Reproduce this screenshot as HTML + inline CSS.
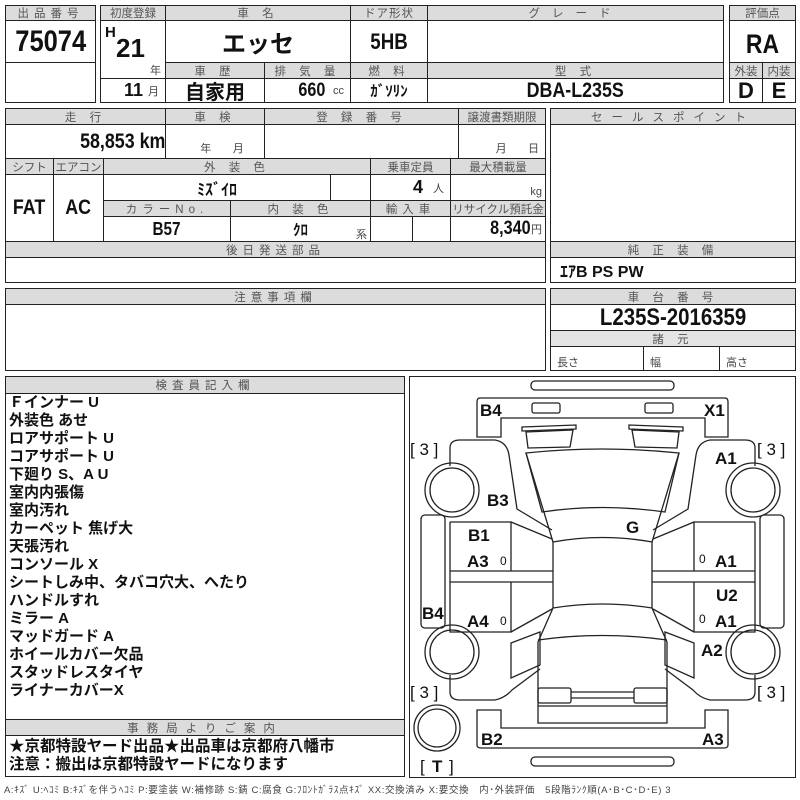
<!DOCTYPE html>
<html><head><meta charset="utf-8"><style>
*{margin:0;padding:0}
body{width:800px;height:800px;background:#fff;position:relative;overflow:hidden;font-family:"Liberation Sans","Noto Sans CJK JP",sans-serif}
.c{position:absolute;border:1.3px solid #222;box-sizing:border-box;display:flex;align-items:center;justify-content:center;white-space:nowrap;overflow:hidden}
.h{background:#dcdcdc;color:#555;font-size:11.5px;letter-spacing:5px}
.v{font-family:"Liberation Sans Narrow","Liberation Sans","Noto Sans CJK JP",sans-serif;font-weight:bold;color:#111}
.s{font-size:11px;color:#444;font-weight:normal}
.n{display:inline-block;transform:scaleX(.85)}
.t{position:absolute;font-family:"Liberation Sans","Noto Sans CJK JP",sans-serif;font-weight:bold;color:#111}
.lbl{font-family:"Liberation Sans",sans-serif;font-weight:bold;font-size:17px;fill:#111}
.br{font-family:"Liberation Sans",sans-serif;font-size:17px;fill:#111}
</style></head><body>
<div class="c h" style="left:5px;top:5px;width:91px;height:16px">出品番号</div>
<div class="c v" style="left:5px;top:20px;width:91px;height:43px;font-size:30px"><span class="n">75074</span></div>
<div class="c" style="left:5px;top:62px;width:91px;height:41px"></div>

<div class="c h" style="left:100px;top:5px;width:66px;height:16px;letter-spacing:0">初度登録</div>
<div class="c h" style="left:165px;top:5px;width:186px;height:16px">車 名</div>
<div class="c h" style="left:350px;top:5px;width:78px;height:16px;letter-spacing:1px">ドア形状</div>
<div class="c h" style="left:427px;top:5px;width:297px;height:16px;letter-spacing:12px">グレード</div>
<div class="c" style="left:100px;top:20px;width:66px;height:59px"></div>
<div class="t v" style="left:105px;top:24px;font-size:15px">H</div>
<div class="t v" style="left:116px;top:33px;font-size:26px">21</div>
<div class="t" style="left:150px;top:62px;font-size:11px;font-weight:normal;color:#444">年</div>
<div class="c v" style="left:165px;top:20px;width:186px;height:43px;font-size:24px">エッセ</div>
<div class="c v" style="left:350px;top:20px;width:78px;height:43px;font-size:22px"><span class="n">5HB</span></div>
<div class="c" style="left:427px;top:20px;width:297px;height:43px"></div>
<div class="c h" style="left:165px;top:62px;width:100px;height:17px">車 歴</div>
<div class="c h" style="left:264px;top:62px;width:87px;height:17px">排 気 量</div>
<div class="c h" style="left:350px;top:62px;width:78px;height:17px">燃 料</div>
<div class="c h" style="left:427px;top:62px;width:297px;height:17px">型 式</div>
<div class="c v" style="left:100px;top:78px;width:66px;height:25px;font-size:18px;justify-content:flex-end;padding-right:6px">11&nbsp;<span class="s">月</span></div>
<div class="c v" style="left:165px;top:78px;width:100px;height:25px;font-size:20px">自家用</div>
<div class="c v" style="left:264px;top:78px;width:87px;height:25px;font-size:19px;justify-content:flex-end;padding-right:6px"><span class="n">660</span>&nbsp;<span class="s">cc</span></div>
<div class="c v" style="left:350px;top:78px;width:78px;height:25px;font-size:15px">ｶﾞｿﾘﾝ</div>
<div class="c v" style="left:427px;top:78px;width:297px;height:25px;font-size:21px"><span class="n">DBA-L235S</span></div>

<div class="c h" style="left:729px;top:5px;width:67px;height:16px;letter-spacing:0">評価点</div>
<div class="c v" style="left:729px;top:20px;width:67px;height:43px;font-size:27px;padding-top:6px"><span class="n">RA</span></div>
<div class="c h" style="left:729px;top:62px;width:34px;height:17px;letter-spacing:0">外装</div>
<div class="c h" style="left:762px;top:62px;width:34px;height:17px;letter-spacing:0">内装</div>
<div class="c v" style="left:729px;top:78px;width:34px;height:25px;font-size:22px">D</div>
<div class="c v" style="left:762px;top:78px;width:34px;height:25px;font-size:22px">E</div>

<div class="c h" style="left:5px;top:108px;width:161px;height:17px">走 行</div>
<div class="c h" style="left:165px;top:108px;width:100px;height:17px">車 検</div>
<div class="c h" style="left:264px;top:108px;width:195px;height:17px">登 録 番 号</div>
<div class="c h" style="left:458px;top:108px;width:88px;height:17px;letter-spacing:0">譲渡書類期限</div>
<div class="c v" style="left:5px;top:124px;width:161px;height:35px;font-size:21px;justify-content:flex-end;padding-right:0"><span class="n" style="transform-origin:right">58,853 km</span></div>
<div class="c" style="left:165px;top:124px;width:100px;height:35px;font-size:11px;color:#444;align-items:flex-end;padding-bottom:2px;padding-left:14px">年&nbsp;&nbsp;&nbsp;&nbsp;&nbsp;&nbsp;&nbsp;月</div>
<div class="c" style="left:264px;top:124px;width:195px;height:35px"></div>
<div class="c" style="left:458px;top:124px;width:88px;height:35px;font-size:11px;color:#444;align-items:flex-end;justify-content:flex-end;padding:0 6px 2px 0">月&nbsp;&nbsp;&nbsp;&nbsp;&nbsp;&nbsp;&nbsp;日</div>
<div class="c h" style="left:5px;top:158px;width:49px;height:17px;letter-spacing:0">シフト</div>
<div class="c h" style="left:53px;top:158px;width:51px;height:17px;letter-spacing:0">エアコン</div>
<div class="c h" style="left:103px;top:158px;width:268px;height:17px">外 装 色</div>
<div class="c h" style="left:370px;top:158px;width:81px;height:17px;letter-spacing:0">乗車定員</div>
<div class="c h" style="left:450px;top:158px;width:96px;height:17px;letter-spacing:0">最大積載量</div>
<div class="c v" style="left:5px;top:174px;width:49px;height:68px;font-size:21px"><span class="n">FAT</span></div>
<div class="c v" style="left:53px;top:174px;width:51px;height:68px;font-size:21px"><span class="n">AC</span></div>
<div class="c v" style="left:103px;top:174px;width:228px;height:27px;font-size:16px">ﾐｽﾞｲﾛ</div>
<div class="c" style="left:330px;top:174px;width:41px;height:27px"></div>
<div class="c v" style="left:370px;top:174px;width:81px;height:27px;font-size:18px;justify-content:flex-end;padding-right:6px">4&nbsp;&nbsp;<span class="s">人</span></div>
<div class="c" style="left:450px;top:174px;width:96px;height:27px;font-size:11px;color:#444;justify-content:flex-end;align-items:flex-end;padding:0 3px 2px 0">kg</div>
<div class="c h" style="left:103px;top:200px;width:128px;height:17px">カラーNo.</div>
<div class="c h" style="left:230px;top:200px;width:141px;height:17px">内 装 色</div>
<div class="c h" style="left:370px;top:200px;width:81px;height:17px">輸入車</div>
<div class="c h" style="left:450px;top:200px;width:96px;height:17px;letter-spacing:0">リサイクル預託金</div>
<div class="c v" style="left:103px;top:216px;width:128px;height:26px;font-size:18px"><span class="n">B57</span></div>
<div class="c v" style="left:230px;top:216px;width:141px;height:26px;font-size:15px">ｸﾛ</div>
<div class="t" style="left:356px;top:226px;font-size:11px;font-weight:normal;color:#444">系</div>
<div class="c" style="left:370px;top:216px;width:43px;height:26px"></div>
<div class="c" style="left:412px;top:216px;width:39px;height:26px"></div>
<div class="c v" style="left:450px;top:216px;width:96px;height:26px;font-size:19px;justify-content:flex-end;padding-right:3px"><span class="n" style="transform-origin:right">8,340</span><span class="s">円</span></div>
<div class="c h" style="left:5px;top:241px;width:541px;height:17px">後日発送部品</div>
<div class="c" style="left:5px;top:257px;width:541px;height:26px"></div>

<div class="c h" style="left:550px;top:108px;width:246px;height:17px;letter-spacing:9px">セールスポイント</div>
<div class="c" style="left:550px;top:124px;width:246px;height:118px"></div>
<div class="c h" style="left:550px;top:241px;width:246px;height:17px">純 正 装 備</div>
<div class="c v" style="left:550px;top:257px;width:246px;height:26px;font-size:16px;justify-content:flex-start;padding-left:9px">ｴｱB PS PW</div>

<div class="c h" style="left:5px;top:288px;width:541px;height:17px">注意事項欄</div>
<div class="c" style="left:5px;top:304px;width:541px;height:67px"></div>
<div class="c h" style="left:550px;top:288px;width:246px;height:17px">車 台 番 号</div>
<div class="c v" style="left:550px;top:304px;width:246px;height:27px;font-size:24px"><span class="n">L235S-2016359</span></div>
<div class="c h" style="left:550px;top:330px;width:246px;height:17px;background:#e4e4e4">諸 元</div>
<div class="c" style="left:550px;top:346px;width:94px;height:25px;font-size:11px;color:#444;justify-content:flex-start;padding-left:6px;padding-top:6px">長さ</div>
<div class="c" style="left:643px;top:346px;width:77px;height:25px;font-size:11px;color:#444;justify-content:flex-start;padding-left:6px;padding-top:6px">幅</div>
<div class="c" style="left:719px;top:346px;width:77px;height:25px;font-size:11px;color:#444;justify-content:flex-start;padding-left:6px;padding-top:6px">高さ</div>

<div class="c h" style="left:5px;top:376px;width:400px;height:18px">検査員記入欄</div>
<div class="c" style="left:5px;top:393px;width:400px;height:328px"></div>
<div class="t" style="left:9px;top:394px;font-size:15px;line-height:18px">Ｆインナー U<br>外装色 あせ<br>ロアサポート U<br>コアサポート U<br>下廻り S、A U<br>室内内張傷<br>室内汚れ<br>カーペット 焦げ大<br>天張汚れ<br>コンソール X<br>シートしみ中、タバコ穴大、へたり<br>ハンドルすれ<br>ミラー A<br>マッドガード A<br>ホイールカバー欠品<br>スタッドレスタイヤ<br>ライナーカバーX</div>
<div class="c h" style="left:5px;top:719px;width:400px;height:17px;letter-spacing:8px">事務局よりご案内</div>
<div class="c" style="left:5px;top:735px;width:400px;height:42px"></div>
<div class="t" style="left:9px;top:738px;font-size:15.5px;line-height:18px">★京都特設ヤード出品★出品車は京都府八幡市<br>注意：搬出は京都特設ヤードになります</div>
<div class="t" style="left:4px;top:782px;font-size:9.5px;font-weight:normal;color:#444;white-space:nowrap;letter-spacing:0.6px">A:ｷｽﾞ U:ﾍｺﾐ B:ｷｽﾞを伴うﾍｺﾐ P:要塗装 W:補修跡 S:錆 C:腐食 G:ﾌﾛﾝﾄｶﾞﾗｽ点ｷｽﾞ XX:交換済み X:要交換　内･外装評価　5段階ﾗﾝｸ順(A･B･C･D･E) 3</div>

<div class="c" style="left:409px;top:376px;width:387px;height:402px"></div>
<svg width="800" height="800" style="position:absolute;left:0;top:0" fill="none" stroke="#222" stroke-width="1.3">
<rect x="531" y="381" width="143" height="9" rx="4"/>
<rect x="531" y="757" width="143" height="9" rx="4"/>
<path d="M480,398 L725,398 Q728,398 728,402 L728,437 L705,437 L705,418 L501,418 L501,437 L477,437 L477,402 Q477,398 480,398 Z"/>
<rect x="532" y="403" width="28" height="10" rx="2"/>
<rect x="645" y="403" width="28" height="10" rx="2"/>
<path d="M477,710 L501,710 L501,728 L705,728 L705,710 L728,710 L728,745 Q728,748 724,748 L481,748 Q477,748 477,745 Z"/>
<circle cx="437" cy="728" r="23"/><circle cx="437" cy="728" r="19"/>
<g id="half">
<circle cx="452" cy="490" r="27"/><circle cx="452" cy="490" r="22"/>
<circle cx="452" cy="652" r="27"/><circle cx="452" cy="652" r="22"/>
<rect x="421" y="515" width="24" height="113" rx="4"/>
<path d="M450,466 L450,448 Q450,440 460,440 L495,440 Q507,442 509,455 L517,509 L552,530"/>
<path d="M450,675 L450,692 Q450,700 460,700 L495,700 Q505,698 512,690 L540,669"/>
<path d="M450,522 L511,522 L511,571 M450,571 L553,571 M450,582 L553,582 M511,582 L511,632 L450,632 L450,522 M511,522 L552,539 M511,632 L552,609"/>
<path d="M511,643 L540,632 L540,665 L511,678 Z"/>
<path d="M522,427 L576,425 L576,429 L522,431 Z"/>
<path d="M526,432 L573,430 L570,447 L528,448 Z"/>
</g>
<use href="#half" transform="translate(1205,0) scale(-1,1)"/>
<path d="M526,453 Q602,445 679,453 L665,512 Q602,503 542,512 Z"/>
<path d="M526,453 L553,542 M679,453 L652,542"/>
<path d="M553,542 Q602,533 652,542 L652,608 Q602,600 553,608 Z"/>
<path d="M553,608 L538,642 L538,723 L667,723 L667,642 L652,608 M538,640 Q602,631 667,640"/>
<rect x="538" y="688" width="33" height="15" rx="2"/>
<rect x="634" y="688" width="33" height="15" rx="2"/>
<path d="M571,692 L634,692 M571,698 L634,698 M538,706 L667,706"/>
</svg>
<svg width="800" height="800" style="position:absolute;left:0;top:0">
<text class="lbl" x="480" y="416">B4</text>
<text class="lbl" x="704" y="416">X1</text>
<text class="br" x="410" y="455">[ 3 ]</text>
<text class="br" x="757" y="455">[ 3 ]</text>
<text class="lbl" x="715" y="464">A1</text>
<text class="lbl" x="487" y="506">B3</text>
<text class="lbl" x="626" y="533">G</text>
<text class="lbl" x="468" y="541">B1</text>
<text class="lbl" x="467" y="567">A3</text>
<text class="br" x="500" y="565" style="font-size:12px">0</text>
<text class="br" x="699" y="563" style="font-size:12px">0</text>
<text class="lbl" x="715" y="567">A1</text>
<text class="lbl" x="716" y="601">U2</text>
<text class="lbl" x="422" y="619">B4</text>
<text class="lbl" x="467" y="627">A4</text>
<text class="br" x="500" y="625" style="font-size:12px">0</text>
<text class="br" x="699" y="623" style="font-size:12px">0</text>
<text class="lbl" x="715" y="627">A1</text>
<text class="lbl" x="701" y="656">A2</text>
<text class="br" x="410" y="698">[ 3 ]</text>
<text class="br" x="757" y="698">[ 3 ]</text>
<text class="lbl" x="481" y="745">B2</text>
<text class="lbl" x="702" y="745">A3</text>
<text class="br" x="420" y="772">[ </text><text class="lbl" x="432" y="772">T</text><text class="br" x="449" y="772">]</text>
</svg>
</body></html>
